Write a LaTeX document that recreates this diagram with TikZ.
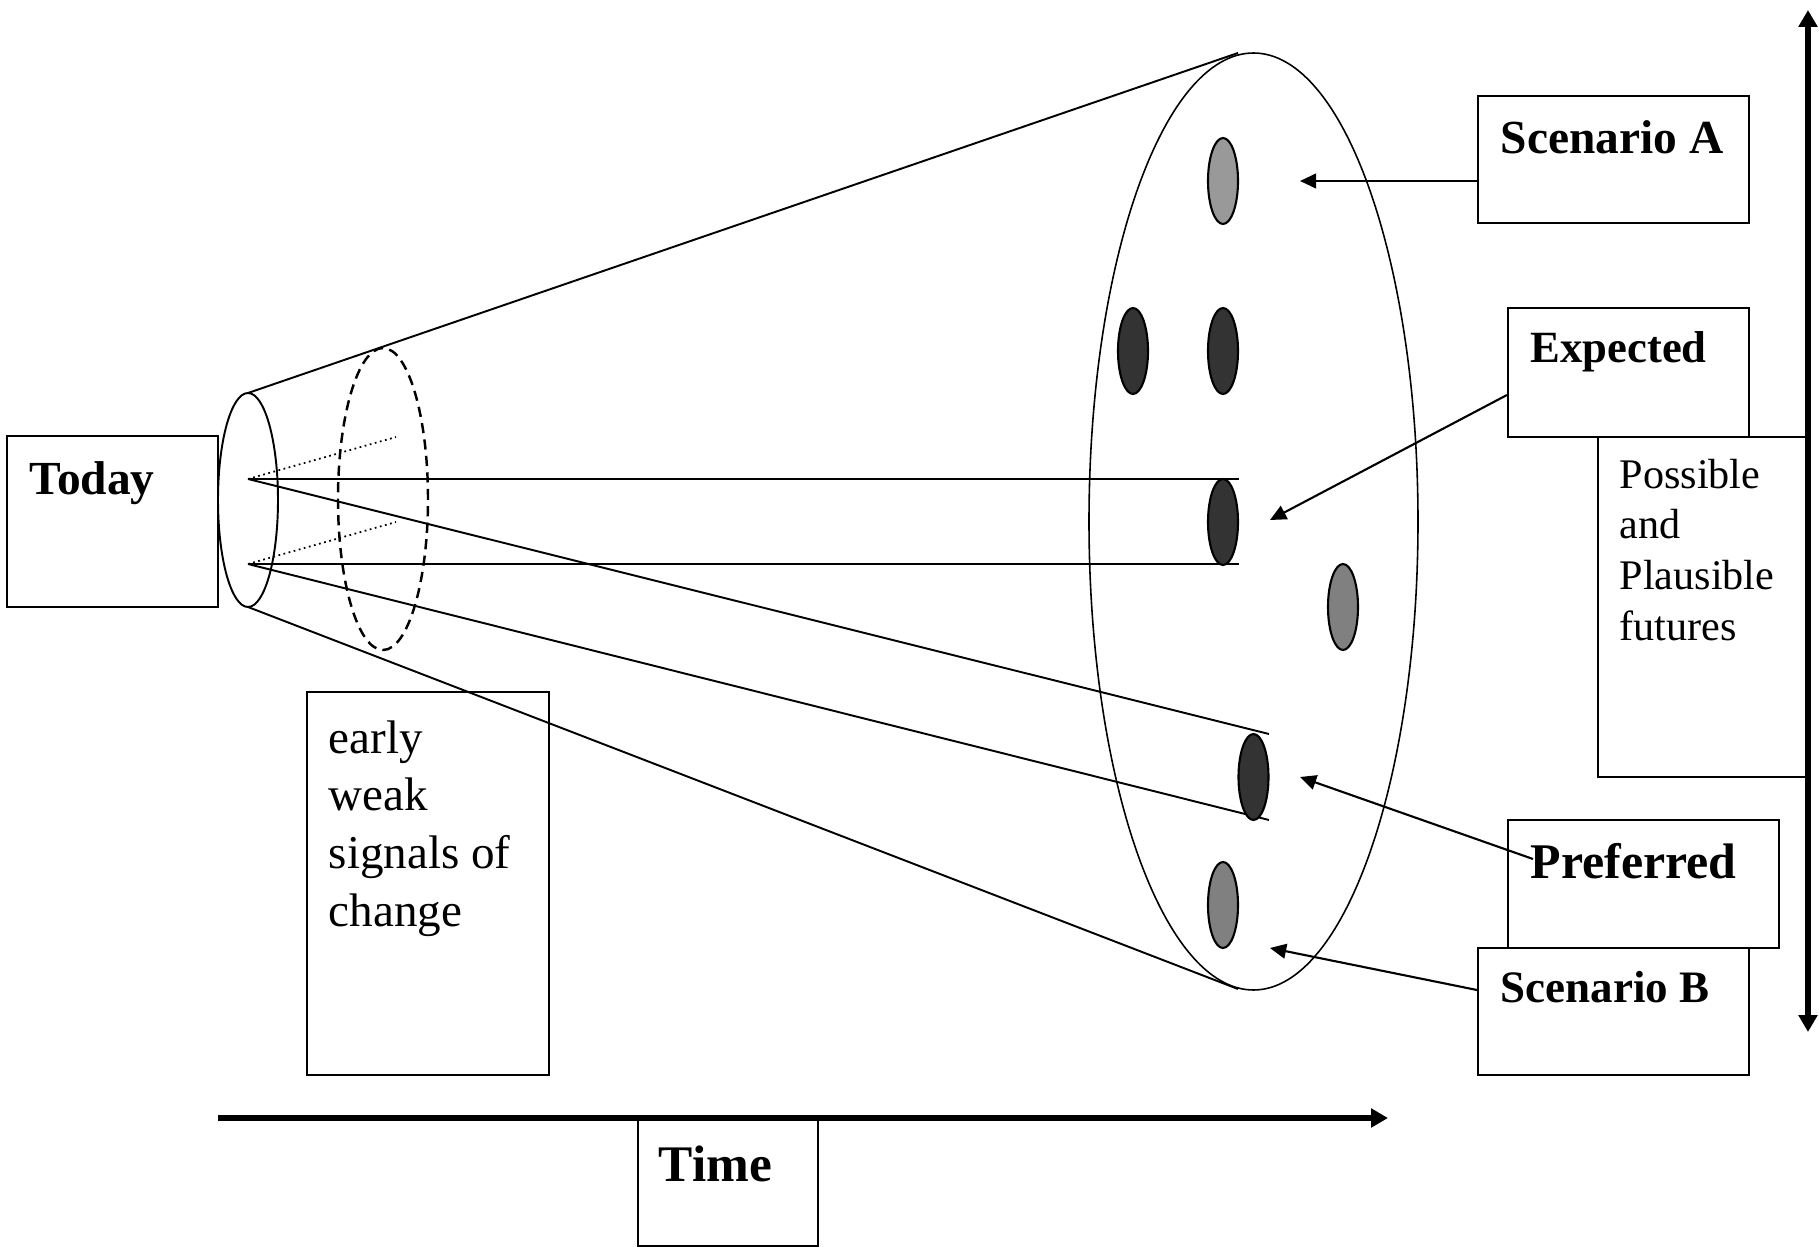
\documentclass[tikz,border=0pt]{standalone}
\usepackage{fontspec}
\setmainfont{Liberation Serif}
\usetikzlibrary{arrows.meta}
\definecolor{DarkBlob}{RGB}{51,51,51}
\definecolor{MidBlob}{RGB}{128,128,128}
\definecolor{LightBlob}{RGB}{153,153,153}
\tikzset{
  box/.style={draw=black,line width=0.6pt,inner sep=0pt},
  rim/.style={draw=black,line width=0.55pt},
  blob/.style={draw=black,line width=0.6pt,x radius=1.5mm,y radius=4.3mm},
  ptr/.style={line width=0.6pt,-{Triangle[length=4.6pt,width=4.2pt]}},
  axis/.style={line width=1.85pt,-{Triangle[length=4.8pt,width=5.2pt]}},
  lbl/.style={anchor=base west,inner sep=0pt},
}
\newcommand{\bigfont}[1]{\fontsize{#1}{#1}\selectfont\bfseries}

\begin{document}
\begin{tikzpicture}[x=0.1mm,y=-0.1mm]
\useasboundingbox (0,0) rectangle (1819,1249);
% cone from today into the range of futures
\coordinate (s1) at (248,479);
\coordinate (s2) at (248,564);
\draw[rim] (248,393) -- (1238,53);
\draw[rim] (248,607) -- (1238,989);
\draw[rim,line width=0.45pt] (1253.5,521.5) ellipse [x radius=16.45mm,y radius=46.85mm];
\draw[rim] (248,500) ellipse [x radius=3mm,y radius=10.7mm];
\draw[rim,line width=0.7pt,dash pattern=on 2.9pt off 1.8pt] (383,499) ellipse [x radius=4.5mm,y radius=15.1mm];
\draw[densely dotted,line width=0.5pt] (s1) -- (396,437);
\draw[densely dotted,line width=0.5pt] (s2) -- (396,522);
\draw[rim] (s1) -- (1239,479);
\draw[rim] (s2) -- (1239,564);
\draw[rim] (s1) -- (1269,734);
\draw[rim] (s2) -- (1269,820);
% futures
\draw[blob,fill=LightBlob] (1223,181) ellipse [];
\draw[blob,fill=DarkBlob] (1133,351) ellipse [];
\draw[blob,fill=DarkBlob] (1223,351) ellipse [];
\draw[blob,fill=DarkBlob] (1223,522) ellipse [];
\draw[blob,fill=MidBlob] (1343,607) ellipse [];
\draw[blob,fill=DarkBlob] (1253.5,777) ellipse [];
\draw[blob,fill=MidBlob] (1223,905) ellipse [];
% boxes
\node[box,minimum width=21.1mm,minimum height=17.1mm] (today) at (112.5,521.5) {};
\node[box,minimum width=24.2mm,minimum height=38.3mm] (signals) at (428,883.5) {};
\node[box,minimum width=18mm,minimum height=12.8mm] (time) at (728,1182) {};
\node[box,minimum width=27.1mm,minimum height=12.7mm] (scena) at (1613.5,159.5) {};
\node[box,minimum width=24.1mm,minimum height=12.9mm] (expected) at (1628.5,372.5) {};
\node[box,minimum width=21mm,minimum height=34mm] (possible) at (1703,607) {};
\node[box,minimum width=27.1mm,minimum height=12.8mm] (preferred) at (1643.5,884) {};
\node[box,minimum width=27.1mm,minimum height=12.7mm] (scenb) at (1613.5,1011.5) {};
% texts
\node[lbl,font=\bigfont{13.5pt}] (todaytxt) at (29,495) {Today};
\node[lbl,font=\bigfont{14.6pt}] (timetxt) at (658,1181) {Time};
\node[lbl,font=\bigfont{13.5pt}] (scenatxt) at (1500,154) {Scenario A};
\node[lbl,font=\bigfont{12.7pt}] (expectedtxt) at (1530,363) {Expected};
\node[lbl,font=\bigfont{14.2pt}] (preferredtxt) at (1530,878) {Preferred};
\node[lbl,font=\bigfont{12.8pt}] (scenbtxt) at (1500,1002) {Scenario B};
\node[lbl,font=\fontsize{13.4pt}{16.5pt}\selectfont] (signalstxt) at (328,753)
  {\begin{tabular}[t]{@{}l@{}}early\\weak\\signals of\\change\end{tabular}};
\node[lbl,font=\fontsize{12pt}{14.5pt}\selectfont] (possibletxt) at (1619,488)
  {\begin{tabular}[t]{@{}l@{}}Possible\\and\\Plausible\\futures\end{tabular}};
% pointers
\coordinate (ta) at (1300,181);
\coordinate (te) at (1270,520);
\coordinate (tp) at (1300,777);
\coordinate (tb) at (1270,948);
\draw[ptr] (scena.west |- ta) -- (ta);
\draw[ptr] (expected.west |- 0,395) -- (te);
\draw[ptr] (1533,859) -- (tp);
\draw[ptr] (scenb.west |- 0,990) -- (tb);
% axes
\coordinate (up) at (1808,10);
\coordinate (down) at (1808,1032);
\draw[axis,{Triangle[length=4.8pt,width=5.2pt]}-{Triangle[length=4.8pt,width=5.2pt]}] (down) -- (up);
\draw[axis] (218,1118) -- (1388,1118);
\end{tikzpicture}
\end{document}
